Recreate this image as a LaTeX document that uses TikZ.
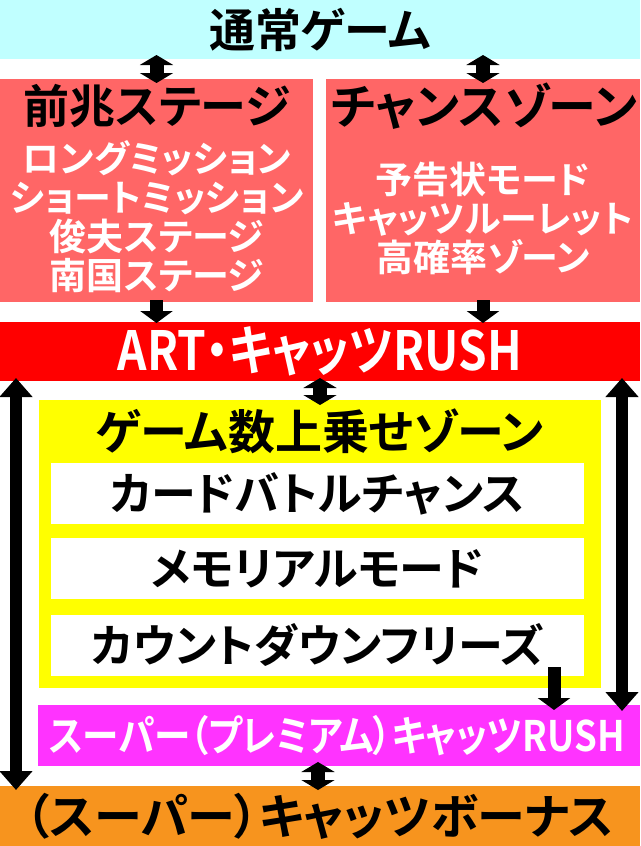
\documentclass[tikz,border=0pt]{standalone}
\usepackage{fontspec}
\setmainfont{Noto Sans CJK JP}[BoldFont={Noto Sans CJK JP Bold}, RawFeature=+palt]
\usepackage{graphicx}
\usetikzlibrary{arrows.meta}
\definecolor{tsujoColor}{RGB}{192,255,255}
\definecolor{zenchoColor}{RGB}{255,102,102}
\definecolor{artColor}{RGB}{255,0,0}
\definecolor{josoColor}{RGB}{255,255,0}
\definecolor{superColor}{RGB}{255,51,255}
\definecolor{bonusColor}{RGB}{247,148,30}

\begin{document}
\begin{tikzpicture}[x=1pt,y=-1pt,
  zone/.style={inner sep=0pt, outer sep=0pt},
  head/.style={font=\fontsize{46}{50}\selectfont\bfseries},
  sub/.style={font=\fontsize{37}{39}\selectfont\bfseries, text=white, align=center},
  item/.style={font=\fontsize{45}{48}\selectfont\bfseries},
  dblarrow/.style={line width=14pt, {Triangle[width=33pt,length=10pt]}-{Triangle[width=33pt,length=10pt]}},
  downarrow/.style={line width=13pt, -{Triangle[width=32pt,length=12pt]}},
  longarrow/.style={line width=12pt, {Triangle[width=32pt,length=19pt]}-{Triangle[width=32pt,length=19pt]}},
]
\useasboundingbox (0,0) rectangle (640,846);

% boxes
\node [zone, head, fill=tsujoColor, minimum width=640pt, minimum height=59pt] (tsujo) at (320,29.5) {通常ゲーム};

\node [zone, fill=zenchoColor, minimum width=313pt, minimum height=223pt] (zencho) at (156.5,190.5) {};
\node [head] (zenchoT) at (157,106) {前兆ステージ};
\node [sub] (zenchoL) at (157,217) {ロングミッション\\ショートミッション\\俊夫ステージ\\南国ステージ};

\node [zone, fill=zenchoColor, minimum width=314pt, minimum height=223pt] (chance) at (483,190.5) {};
\node [head, font=\fontsize{48}{50}\selectfont\bfseries] (chanceT) at (484,106) {チャンスゾーン};
\node [sub] (chanceL) at (483,218) {予告状モード\\キャッツルーレット\\高確率ゾーン};

\node [zone, fill=artColor, text=white, font=\fontsize{54}{56}\selectfont\bfseries,
  minimum width=640pt, minimum height=59pt] (art) at (320,351.5) {\scalebox{0.85}[1]{ART・キャッツRUSH}};

\node [zone, fill=josoColor, minimum width=562pt, minimum height=288pt] (joso) at (319.5,544) {};
\node [head, font=\fontsize{47}{50}\selectfont\bfseries] (josoT) at (320,431) {ゲーム数上乗せゾーン};
\node [zone, item, fill=white, minimum width=533pt, minimum height=61pt] (card) at (317.5,493.5) {カードバトルチャンス};
\node [zone, item, fill=white, minimum width=533pt, minimum height=61pt] (memory) at (317.5,568.5) {メモリアルモード};
\node [zone, item, fill=white, minimum width=533pt, minimum height=61pt] (count) at (317.5,645.5) {カウントダウンフリーズ};

\node [zone, fill=superColor, text=white, font=\fontsize{42}{44}\selectfont\bfseries,
  minimum width=602pt, minimum height=61pt] (super) at (339,735.5) {\hspace*{-4pt}\scalebox{0.87}[1]{スーパー（プレミアム）キャッツRUSH}};

\node [zone, head, font=\fontsize{48}{50}\selectfont\bfseries, fill=bonusColor,
  minimum width=640pt, minimum height=60pt] (bonus) at (320,816) {（スーパー）キャッツボーナス};

% arrows
\draw [dblarrow] ([yshift=4pt]tsujo.south -| zencho.north) -- ([yshift=-4pt]zencho.north);
\draw [dblarrow] ([yshift=4pt]tsujo.south -| chance.north) -- ([yshift=-4pt]chance.north);
\draw [downarrow] ([yshift=2pt]zencho.south) -- ([yshift=-1pt]art.north -| zencho.south);
\draw [downarrow] ([yshift=2pt]chance.south) -- ([yshift=-1pt]art.north -| chance.south);
\draw [dblarrow] ([yshift=3pt]art.south) -- ([yshift=-5pt]joso.north -| art.south);
\draw [longarrow] ([xshift=16pt,yshift=3pt]art.south west) -- ([xshift=16pt,yshift=-4pt]bonus.north west);
\draw [longarrow] ([xshift=-18pt,yshift=3pt]art.south east) -- ([xshift=-18pt,yshift=-6pt]super.north east);
\draw [downarrow] ([xshift=-30pt,yshift=9pt]count.south east) -- ([xshift=-30pt,yshift=-5pt]super.north -| count.south east);
\draw [dblarrow] ([xshift=-21pt,yshift=4pt]super.south) -- ([xshift=-2pt,yshift=-4pt]bonus.north);
\end{tikzpicture}
\end{document}
